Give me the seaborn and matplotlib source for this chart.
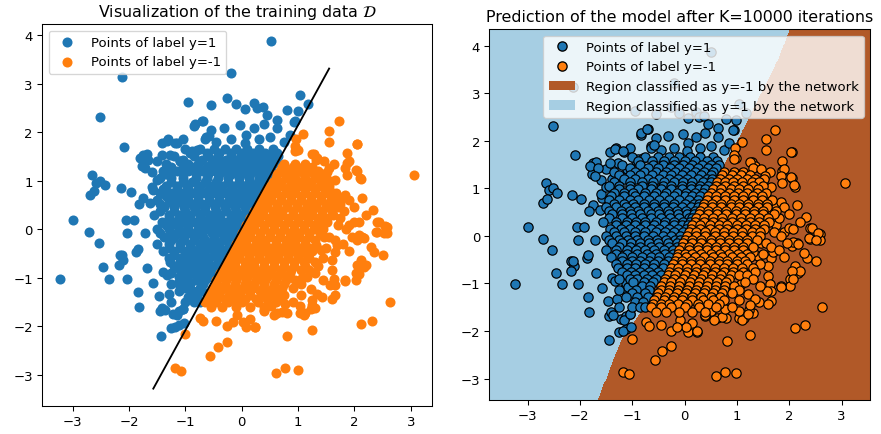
import numpy as np
import pandas as pd
import matplotlib
matplotlib.use("Agg")
import matplotlib.pyplot as plt
from matplotlib.patches import Patch
import seaborn as sns

# ---------------- data ----------------
# points of label y=1 (blue)
blue_points = [
    (0.51, 3.87), (-2.13, 3.14), (-0.20, 3.21), (-2.52, 2.31), (-2.09, 1.70),
    (-0.95, 2.63), (-0.55, 2.56), (-0.26, 2.71), (-0.10, 2.59), (0.06, 2.48), (0.21, 2.61),
    (0.27, 2.49), (0.37, 2.51), (-0.84, 2.13), (-0.69, 2.24), (-0.64, 1.90), (-0.03, 2.15),
    (0.07, 1.95), (0.21, 2.08), (0.39, 2.16), (0.63, 2.26), (0.63, 2.08), (0.95, 2.23),
    (1.04, 2.77), (1.17, 2.59), (0.99, 2.43), (-1.42, 1.77), (-1.31, 1.85), (-1.15, 1.77),
    (-1.04, 1.85), (-0.32, 2.09), (-0.83, 2.16), (-0.71, 2.24), (-0.45, 1.80), (-0.20, 1.85),
    (0.05, 1.78), (0.30, 1.85), (0.50, 1.90), (0.75, 1.80), (-0.55, 2.05), (0.45, 2.35),
    (0.80, 2.45), (0.85, 1.95), (0.93, 2.22),
    (-1.75, 1.54), (-1.69, 1.55), (-1.50, 1.41), (-1.77, 1.30), (-1.27, 1.54), (-1.10, 1.40),
    (-0.92, 1.57), (-1.39, 1.20), (-1.60, 1.18), (-1.27, 1.16), (-1.81, 1.47), (-1.66, 1.43),
    (-1.72, 1.26), (-1.42, 1.54), (-1.09, 1.41), (-0.89, 1.61), (-0.80, 1.64), (-0.65, 1.85),
    (-0.59, 1.92), (-1.33, 1.82), (-1.18, 1.78),
    (-2.65, 1.11), (-2.58, 0.96), (-2.52, 1.00), (-2.43, 0.91), (-2.70, 0.70), (-2.62, 0.78),
    (-2.15, 0.86), (-1.97, 0.77), (-1.75, 0.64), (-1.83, 0.53), (-1.62, 0.54), (-1.57, 0.80),
    (-1.60, 0.88), (-1.51, 1.02),
    (-3.00, 0.19), (-2.71, -0.06), (-2.53, -0.29), (-2.46, -0.77), (-2.35, -1.02),
    (-3.23, -1.02), (-2.16, -0.53), (-2.11, -0.63), (-2.17, -0.73), (-2.04, -1.02),
    (-1.87, -0.46), (-1.84, -1.29), (-1.82, -1.59), (-2.04, -0.08), (-2.05, 0.19),
    (-1.92, 0.19), (-1.72, -0.08), (-1.69, -0.79), (-1.57, -1.10), (-1.46, -1.37),
    (-1.39, -0.88), (-1.33, -0.95), (-1.45, -1.68), (-1.41, -1.61), (-1.22, -1.75),
    (-1.29, -1.33), (-1.26, -1.49), (-1.44, -2.19), (-1.26, -2.03), (-1.11, -1.96),
    (-1.11, -1.68), (-1.05, -1.64), (-1.08, -1.16), (-1.14, -1.10), (-1.11, -0.99),
    (-0.94, -1.10), (-0.86, -1.26), (-1.36, -1.67), (-1.15, -1.77), (-1.18, -2.01),
    (-1.04, -1.64), (-1.03, -1.92), (-1.08, -1.08), (-2.13, -0.53), (-1.84, -0.40),
    # dense core
    (-1.00, 1.65), (-0.75, 1.65), (-0.50, 1.65), (-0.30, 1.65), (-0.10, 1.65), (0.10, 1.65),
    (0.30, 1.65), (0.55, 1.65),
    (-0.88, 1.58), (-0.62, 1.58), (-0.40, 1.58), (-0.20, 1.58), (0.00, 1.58), (0.20, 1.58),
    (0.42, 1.58), (0.62, 1.58),
    (-1.20, 1.50), (-0.85, 1.50), (-0.60, 1.50), (-0.42, 1.50), (-0.20, 1.50), (-0.02, 1.50),
    (0.15, 1.50), (0.33, 1.50), (0.50, 1.50), (0.65, 1.50),
    (-1.05, 1.43), (-0.70, 1.43), (-0.50, 1.43), (-0.28, 1.43), (-0.10, 1.43), (0.08, 1.43),
    (0.25, 1.43), (0.45, 1.43), (0.60, 1.43),
    (-1.35, 1.35), (-0.95, 1.35), (-0.78, 1.35), (-0.55, 1.35), (-0.35, 1.35), (-0.18, 1.35),
    (0.00, 1.35), (0.20, 1.35), (0.38, 1.35), (0.55, 1.35),
    (-1.25, 1.28), (-1.05, 1.28), (-0.85, 1.28), (-0.62, 1.28), (-0.42, 1.28), (-0.25, 1.28),
    (-0.05, 1.28), (0.12, 1.28), (0.32, 1.28), (0.50, 1.28),
    (-1.15, 1.20), (-0.95, 1.20), (-0.70, 1.20), (-0.48, 1.20), (-0.30, 1.20), (-0.12, 1.20),
    (0.05, 1.20), (0.25, 1.20), (0.42, 1.20), (0.52, 1.20),
    (-1.35, 1.13), (-1.05, 1.13), (-0.82, 1.13), (-0.60, 1.13), (-0.40, 1.13), (-0.20, 1.13),
    (-0.02, 1.13), (0.15, 1.13), (0.35, 1.13), (0.50, 1.13),
    (-1.45, 1.05), (-1.25, 1.05), (-1.05, 1.05), (-0.82, 1.05), (-0.62, 1.05), (-0.42, 1.05),
    (-0.25, 1.05), (-0.05, 1.05), (0.12, 1.05), (0.30, 1.05), (0.45, 1.05),
    (-1.25, 0.98), (-1.05, 0.98), (-0.88, 0.98), (-0.65, 0.98), (-0.45, 0.98), (-0.25, 0.98),
    (-0.05, 0.98), (0.12, 0.98), (0.28, 0.98), (0.40, 0.98),
    (-1.35, 0.90), (-1.15, 0.90), (-0.98, 0.90), (-0.75, 0.90), (-0.55, 0.90), (-0.35, 0.90),
    (-0.15, 0.90), (0.02, 0.90), (0.20, 0.90), (0.35, 0.90),
    (-1.40, 0.83), (-1.15, 0.83), (-0.95, 0.83), (-0.78, 0.83), (-0.58, 0.83), (-0.40, 0.83),
    (-0.20, 0.83), (0.00, 0.83), (0.15, 0.83), (0.30, 0.83),
    (-1.45, 0.75), (-1.25, 0.75), (-1.05, 0.75), (-0.88, 0.75), (-0.68, 0.75), (-0.48, 0.75),
    (-0.30, 0.75), (-0.10, 0.75), (0.08, 0.75), (0.25, 0.75),
    (-1.35, 0.68), (-1.15, 0.68), (-0.98, 0.68), (-0.78, 0.68), (-0.58, 0.68), (-0.40, 0.68),
    (-0.20, 0.68), (0.00, 0.68), (0.18, 0.68), (0.28, 0.68),
    (-1.50, 0.60), (-1.30, 0.60), (-1.12, 0.60), (-0.95, 0.60), (-0.78, 0.60), (-0.58, 0.60),
    (-0.40, 0.60), (-0.22, 0.60), (-0.05, 0.60), (0.12, 0.60), (0.25, 0.60),
    (-1.45, 0.53), (-1.22, 0.53), (-1.05, 0.53), (-0.88, 0.53), (-0.70, 0.53), (-0.50, 0.53),
    (-0.32, 0.53), (-0.15, 0.53), (0.02, 0.53), (0.20, 0.53),
    (-1.38, 0.45), (-1.20, 0.45), (-1.02, 0.45), (-0.85, 0.45), (-0.65, 0.45), (-0.48, 0.45),
    (-0.30, 0.45), (-0.12, 0.45), (0.05, 0.45), (0.18, 0.45),
    (-1.45, 0.38), (-1.20, 0.38), (-1.00, 0.38), (-0.82, 0.38), (-0.65, 0.38), (-0.45, 0.38),
    (-0.28, 0.38), (-0.10, 0.38), (0.08, 0.38), (0.15, 0.38),
    (-1.55, 0.30), (-1.30, 0.30), (-1.10, 0.30), (-0.92, 0.30), (-0.75, 0.30), (-0.55, 0.30),
    (-0.38, 0.30), (-0.20, 0.30), (-0.02, 0.30), (0.10, 0.30),
    (-1.30, 0.23), (-1.12, 0.23), (-0.95, 0.23), (-0.75, 0.23), (-0.58, 0.23), (-0.40, 0.23),
    (-0.20, 0.23), (-0.05, 0.23), (0.06, 0.23),
    (-1.42, 0.15), (-1.22, 0.15), (-1.05, 0.15), (-0.85, 0.15), (-0.65, 0.15), (-0.48, 0.15),
    (-0.30, 0.15), (-0.12, 0.15), (0.03, 0.15),
    (-1.35, 0.08), (-1.15, 0.08), (-0.95, 0.08), (-0.75, 0.08), (-0.55, 0.08), (-0.38, 0.08),
    (-0.20, 0.08), (-0.02, 0.08),
    (-1.50, 0.00), (-1.30, 0.00), (-1.12, 0.00), (-0.95, 0.00), (-0.78, 0.00), (-0.60, 0.00),
    (-0.42, 0.00), (-0.25, 0.00), (-0.08, 0.00),
    (-1.45, -0.08), (-1.25, -0.08), (-1.08, -0.08), (-0.90, -0.08), (-0.70, -0.08),
    (-0.52, -0.08), (-0.35, -0.08), (-0.18, -0.08), (-0.08, -0.08),
    (-1.38, -0.15), (-1.20, -0.15), (-1.02, -0.15), (-0.85, -0.15), (-0.68, -0.15),
    (-0.50, -0.15), (-0.32, -0.15), (-0.15, -0.15),
    (-1.25, -0.23), (-1.05, -0.23), (-0.85, -0.23), (-0.65, -0.23), (-0.48, -0.23),
    (-0.30, -0.23), (-0.15, -0.23),
    (-1.50, -0.30), (-1.30, -0.30), (-1.10, -0.30), (-0.92, -0.30), (-0.75, -0.30),
    (-0.58, -0.30), (-0.40, -0.30), (-0.22, -0.30),
    (-1.30, -0.38), (-1.10, -0.38), (-0.90, -0.38), (-0.72, -0.38), (-0.55, -0.38),
    (-0.38, -0.38), (-0.22, -0.38),
    (-1.40, -0.45), (-1.20, -0.45), (-1.00, -0.45), (-0.82, -0.45), (-0.65, -0.45),
    (-0.48, -0.45), (-0.30, -0.45),
    (-1.20, -0.53), (-1.00, -0.53), (-0.85, -0.53), (-0.68, -0.53), (-0.50, -0.53), (-0.32, -0.53),
    (-1.30, -0.60), (-1.10, -0.60), (-0.92, -0.60), (-0.75, -0.60), (-0.58, -0.60), (-0.40, -0.60),
    (-1.28, -0.68), (-1.10, -0.68), (-0.95, -0.68), (-0.78, -0.68), (-0.60, -0.68), (-0.42, -0.68),
    (-1.20, -0.75), (-1.02, -0.75), (-0.85, -0.75), (-0.68, -0.75), (-0.50, -0.75),
    (-1.10, -0.83), (-0.95, -0.83), (-0.78, -0.83), (-0.62, -0.83), (-0.45, -0.83),
    (-1.25, -0.90), (-1.05, -0.90), (-0.90, -0.90), (-0.72, -0.90), (-0.55, -0.90),
    (-0.98, -0.98), (-0.78, -0.98), (-0.60, -0.98),
    (-0.82, -1.05), (-0.66, -1.05), (-1.25, -1.13), (-0.92, -1.13), (-0.68, -1.13),
    (-1.00, -1.20), (-0.75, -1.20), (-1.12, -1.28), (-0.90, -1.28), (-0.70, -1.28),
    (-0.95, -1.40), (-0.80, -1.40), (-1.00, -1.50), (-0.85, -1.50), (-0.75, -1.50),
]

# points of label y=-1 (orange)
orange_points = [
    (1.72, 2.23), (1.55, 2.03), (1.55, 1.80), (1.09, 1.97), (0.97, 1.85), (0.99, 1.64),
    (1.28, 1.55), (1.34, 1.47), (1.87, 1.57), (2.05, 1.76), (1.87, 1.37), (2.05, 1.21),
    (2.11, 1.03), (1.63, 1.34), (3.06, 1.12), (2.14, 0.64), (2.32, 0.40), (0.95, 1.71),
    (0.95, 1.61), (1.25, 1.55), (1.31, 1.43), (1.46, 1.41), (1.54, 1.26), (1.52, 1.19),
    (1.90, 1.40), (1.84, 1.26), (2.03, 1.23), (2.09, 1.06), (1.87, 1.12), (2.04, 1.76),
    (-1.18, -2.86), (-1.07, -2.91), (-0.57, -2.60), (-0.43, -2.43), (-0.26, -2.31),
    (-1.01, -2.16), (-0.74, -1.82), (-0.68, -1.89), (-0.45, -1.88), (-0.26, -2.00),
    (0.07, -2.02), (0.23, -2.02), (0.60, -2.95), (0.77, -2.86), (0.99, -2.89), (0.81, -2.20),
    (1.25, -2.08), (2.11, -1.94), (2.31, -1.88), (2.63, -1.50), (2.34, -0.46), (2.51, -0.53),
    (2.40, -0.06), (2.58, 0.04), (2.40, 0.16), (2.58, -0.08), (2.14, -0.15), (2.05, -0.21),
    (2.11, -0.63), (2.17, -0.77), (2.02, -0.90), (2.02, -1.05), (1.84, -1.05), (1.60, -0.84),
    (1.63, -1.02), (1.66, -1.15), (1.65, -1.36), (1.42, -1.39), (1.30, -1.63), (1.24, -1.56),
    (1.04, -1.72), (1.13, -1.72), (0.80, -1.72), (0.62, -1.72), (0.39, -1.68),
    (2.43, 0.16), (2.55, 0.06), (2.38, -0.05), (2.52, -0.08), (2.08, -0.12), (2.17, -0.17),
    (2.29, -0.36), (2.20, -0.74), (2.05, -0.74), (2.08, -0.91), (1.84, -1.07),
    (1.57, -1.15), (1.60, -1.43), (1.07, -1.01), (1.22, -1.22), (1.34, -1.33), (1.25, -1.46),
    (1.10, -1.77), (1.04, -1.57), (1.22, -1.64), (0.72, -1.70), (0.57, -1.77), (0.51, -1.57),
    (0.39, -1.67), (0.15, -1.84), (0.24, -2.01), (0.03, -1.91), (-0.09, -1.77), (-0.15, -1.91),
    (0.77, -1.53), (1.66, -0.46), (1.69, -0.33), (1.60, -0.64), (1.40, -0.43), (1.31, -0.33),
    (1.46, -0.15), (1.75, 0.23), (1.90, 0.09), (1.99, 0.16), (1.81, 0.37), (1.57, 0.78),
    (1.75, 0.61), (1.63, 0.50), (1.84, 0.71), (1.40, 0.92), (1.57, 0.99), (1.66, 1.02),
    # dense core
    (0.75, 1.35), (0.95, 1.35), (1.12, 1.35),
    (0.72, 1.28), (0.90, 1.28), (1.08, 1.28), (1.25, 1.28),
    (0.68, 1.20), (0.85, 1.20), (1.00, 1.20), (1.20, 1.20), (1.35, 1.20),
    (0.62, 1.13), (0.78, 1.13), (0.92, 1.13), (1.10, 1.13), (1.28, 1.13), (1.42, 1.13),
    (0.60, 1.05), (0.78, 1.05), (0.95, 1.05), (1.12, 1.05), (1.30, 1.05), (1.50, 1.05),
    (0.55, 0.98), (0.70, 0.98), (0.88, 0.98), (1.05, 0.98), (1.22, 0.98), (1.40, 0.98),
    (0.50, 0.90), (0.68, 0.90), (0.85, 0.90), (1.02, 0.90), (1.20, 0.90), (1.38, 0.90), (1.55, 0.90),
    (0.45, 0.83), (0.60, 0.83), (0.78, 0.83), (0.95, 0.83), (1.12, 0.83), (1.30, 0.83), (1.48, 0.83),
    (0.42, 0.75), (0.60, 0.75), (0.78, 0.75), (0.95, 0.75), (1.12, 0.75), (1.30, 0.75),
    (1.48, 0.75), (1.68, 0.75),
    (0.38, 0.68), (0.52, 0.68), (0.70, 0.68), (0.88, 0.68), (1.05, 0.68), (1.22, 0.68),
    (1.40, 0.68), (1.58, 0.68),
    (0.35, 0.60), (0.52, 0.60), (0.70, 0.60), (0.88, 0.60), (1.05, 0.60), (1.22, 0.60),
    (1.40, 0.60), (1.58, 0.60), (1.90, 0.60),
    (0.30, 0.53), (0.45, 0.53), (0.62, 0.53), (0.80, 0.53), (0.98, 0.53), (1.15, 0.53),
    (1.32, 0.53), (1.50, 0.53), (1.75, 0.53),
    (0.28, 0.45), (0.45, 0.45), (0.62, 0.45), (0.80, 0.45), (0.98, 0.45), (1.15, 0.45),
    (1.32, 0.45), (1.50, 0.45), (1.70, 0.45), (2.00, 0.45),
    (0.22, 0.38), (0.38, 0.38), (0.55, 0.38), (0.72, 0.38), (0.90, 0.38), (1.08, 0.38),
    (1.25, 0.38), (1.42, 0.38), (1.60, 0.38),
    (0.20, 0.30), (0.38, 0.30), (0.55, 0.30), (0.72, 0.30), (0.90, 0.30), (1.08, 0.30),
    (1.25, 0.30), (1.42, 0.30), (1.62, 0.30), (2.20, 0.30),
    (0.15, 0.23), (0.30, 0.23), (0.48, 0.23), (0.65, 0.23), (0.82, 0.23), (1.00, 0.23),
    (1.18, 0.23), (1.35, 0.23), (1.52, 0.23),
    (0.12, 0.15), (0.30, 0.15), (0.48, 0.15), (0.65, 0.15), (0.82, 0.15), (1.00, 0.15),
    (1.18, 0.15), (1.35, 0.15), (1.52, 0.15), (2.08, 0.15),
    (0.08, 0.08), (0.22, 0.08), (0.40, 0.08), (0.58, 0.08), (0.75, 0.08), (0.92, 0.08),
    (1.10, 0.08), (1.28, 0.08), (1.45, 0.08), (1.70, 0.08),
    (0.05, 0.00), (0.22, 0.00), (0.40, 0.00), (0.58, 0.00), (0.75, 0.00), (0.92, 0.00),
    (1.10, 0.00), (1.28, 0.00), (1.45, 0.00), (1.85, 0.00),
    (0.00, -0.08), (0.15, -0.08), (0.32, -0.08), (0.50, -0.08), (0.68, -0.08), (0.85, -0.08),
    (1.02, -0.08), (1.20, -0.08), (1.38, -0.08),
    (-0.02, -0.15), (0.15, -0.15), (0.32, -0.15), (0.50, -0.15), (0.68, -0.15), (0.85, -0.15),
    (1.02, -0.15), (1.20, -0.15), (1.55, -0.15), (1.95, -0.15),
    (-0.05, -0.23), (0.08, -0.23), (0.25, -0.23), (0.42, -0.23), (0.60, -0.23), (0.78, -0.23),
    (0.95, -0.23), (1.12, -0.23), (1.30, -0.23), (1.65, -0.23),
    (-0.10, -0.30), (0.08, -0.30), (0.25, -0.30), (0.42, -0.30), (0.60, -0.30), (0.78, -0.30),
    (0.95, -0.30), (1.12, -0.30), (1.80, -0.30),
    (-0.12, -0.38), (0.00, -0.38), (0.15, -0.38), (0.32, -0.38), (0.50, -0.38), (0.68, -0.38),
    (0.85, -0.38), (1.02, -0.38), (1.20, -0.38), (1.50, -0.38),
    (-0.15, -0.45), (0.02, -0.45), (0.20, -0.45), (0.38, -0.45), (0.55, -0.45), (0.72, -0.45),
    (0.90, -0.45), (1.08, -0.45), (1.25, -0.45), (1.90, -0.45),
    (-0.18, -0.53), (-0.05, -0.53), (0.12, -0.53), (0.30, -0.53), (0.48, -0.53), (0.65, -0.53),
    (0.82, -0.53), (1.00, -0.53), (1.15, -0.53),
    (-0.22, -0.60), (-0.05, -0.60), (0.12, -0.60), (0.30, -0.60), (0.48, -0.60), (0.65, -0.60),
    (0.82, -0.60), (1.00, -0.60), (1.20, -0.60), (1.45, -0.60),
    (-0.25, -0.68), (-0.12, -0.68), (0.05, -0.68), (0.22, -0.68), (0.40, -0.68), (0.58, -0.68),
    (0.75, -0.68), (0.92, -0.68), (1.10, -0.68), (1.30, -0.68),
    (-0.30, -0.75), (-0.12, -0.75), (0.05, -0.75), (0.22, -0.75), (0.40, -0.75), (0.58, -0.75),
    (0.75, -0.75), (0.92, -0.75), (1.12, -0.75), (1.35, -0.75),
    (-0.32, -0.83), (-0.18, -0.83), (0.00, -0.83), (0.18, -0.83), (0.35, -0.83), (0.52, -0.83),
    (0.70, -0.83), (0.88, -0.83), (1.05, -0.83), (1.20, -0.83),
    (-0.38, -0.90), (-0.20, -0.90), (-0.02, -0.90), (0.15, -0.90), (0.32, -0.90), (0.50, -0.90),
    (0.68, -0.90), (0.85, -0.90), (1.30, -0.90),
    (-0.40, -0.98), (-0.25, -0.98), (-0.08, -0.98), (0.10, -0.98), (0.28, -0.98), (0.45, -0.98),
    (0.62, -0.98), (0.80, -0.98), (1.15, -0.98),
    (-0.45, -1.05), (-0.28, -1.05), (-0.10, -1.05), (0.08, -1.05), (0.25, -1.05), (0.42, -1.05),
    (0.60, -1.05), (0.78, -1.05), (0.95, -1.05), (1.45, -1.05),
    (-0.45, -1.13), (-0.30, -1.13), (-0.12, -1.13), (0.05, -1.13), (0.22, -1.13), (0.40, -1.13),
    (0.58, -1.13), (0.75, -1.13), (1.05, -1.13),
    (-0.50, -1.20), (-0.32, -1.20), (-0.15, -1.20), (0.02, -1.20), (0.20, -1.20), (0.38, -1.20),
    (0.55, -1.20), (0.72, -1.20), (0.90, -1.20),
    (-0.52, -1.28), (-0.38, -1.28), (-0.20, -1.28), (-0.02, -1.28), (0.15, -1.28), (0.32, -1.28),
    (0.50, -1.28), (0.68, -1.28),
    (-0.58, -1.35), (-0.40, -1.35), (-0.22, -1.35), (-0.05, -1.35), (0.15, -1.35), (0.35, -1.35),
    (0.55, -1.35), (0.75, -1.35), (1.05, -1.35),
    (-0.60, -1.43), (-0.45, -1.43), (-0.30, -1.43), (-0.12, -1.43), (0.05, -1.43), (0.25, -1.43),
    (0.45, -1.43), (0.65, -1.43),
    (-0.65, -1.50), (-0.45, -1.50), (-0.25, -1.50), (0.00, -1.50), (0.28, -1.50), (0.60, -1.50),
    (0.90, -1.50),
    (-0.55, -1.60), (-0.35, -1.60), (-0.10, -1.60), (0.15, -1.60), (0.40, -1.60),
]

# true separating line drawn in the left panel
line_x = [-1.57, 1.55]
line_y = [-3.28, 3.31]

# decision boundary of the trained network (x position of the boundary at given y)
boundary_y = [-3.45, -2.63, -2.14, -1.73, 1.46, 1.95, 2.30, 3.00, 3.70, 4.35]
boundary_x = [-1.64, -1.36, -1.17, -0.90, 0.75, 1.00, 1.16, 1.48, 1.80, 2.02]

label_pos = "Points of label y=1"
label_neg = "Points of label y=-1"
region_neg = "Region classified as y=-1 by the network"
region_pos = "Region classified as y=1 by the network"

# ---------------- figure ----------------
blue = "#1f77b4"
orange = "#ff7f0e"
light_blue = "#a6cee3"
brown = "#b15928"

df_b = pd.DataFrame(blue_points, columns=["x", "y"])
df_o = pd.DataFrame(orange_points, columns=["x", "y"])

DPI = 95
fig = plt.figure(figsize=(881 / DPI, 435 / DPI), dpi=DPI)
ax1 = fig.add_axes([0.0477, 0.0644, 0.4426, 0.8781])
ax2 = fig.add_axes([0.5554, 0.0782, 0.4325, 0.8529])

# left panel
sns.scatterplot(data=df_b, x="x", y="y", color=blue, s=58, linewidth=0,
                label=label_pos, ax=ax1)
sns.scatterplot(data=df_o, x="x", y="y", color=orange, s=58, linewidth=0,
                label=label_neg, ax=ax1)
sns.lineplot(x=line_x, y=line_y, color="black", linewidth=1.4, ax=ax1,
             estimator=None, sort=False)
ax1.legend(loc="upper left")
ax1.set_title(r"Visualization of the training data $\mathcal{D}$")
ax1.set_xlabel("")
ax1.set_ylabel("")

# right panel: decision regions
all_x = np.concatenate([df_b["x"].values, df_o["x"].values])
all_y = np.concatenate([df_b["y"].values, df_o["y"].values])
gx = np.arange(all_x.min() - 0.5, all_x.max() + 0.5, 0.02)
gy = np.arange(all_y.min() - 0.5, all_y.max() + 0.5, 0.02)
xx, yy = np.meshgrid(gx, gy)
bx = np.interp(yy, boundary_y, boundary_x)
zz = (xx > bx).astype(float)
ax2.contourf(xx, yy, zz, levels=[-0.5, 0.5, 1.5], colors=[light_blue, brown])

sns.scatterplot(data=df_b, x="x", y="y", color=blue, s=50, edgecolor="black",
                linewidth=0.9, ax=ax2, legend=False)
sns.scatterplot(data=df_o, x="x", y="y", color=orange, s=50, edgecolor="black",
                linewidth=0.9, ax=ax2, legend=False)
ax2.set_xlim(gx.min(), gx.max())
ax2.set_ylim(gy.min(), gy.max())
handles = [
    plt.Line2D([], [], marker="o", linestyle="", markerfacecolor=blue,
               markeredgecolor="black", markersize=7, label=label_pos),
    plt.Line2D([], [], marker="o", linestyle="", markerfacecolor=orange,
               markeredgecolor="black", markersize=7, label=label_neg),
    Patch(facecolor=brown, label=region_neg),
    Patch(facecolor=light_blue, label=region_pos),
]
ax2.legend(handles=handles, loc="upper right")
ax2.set_title("Prediction of the model after K=10000 iterations")
ax2.set_xlabel("")
ax2.set_ylabel("")

fig.savefig("out.png", dpi=DPI)
